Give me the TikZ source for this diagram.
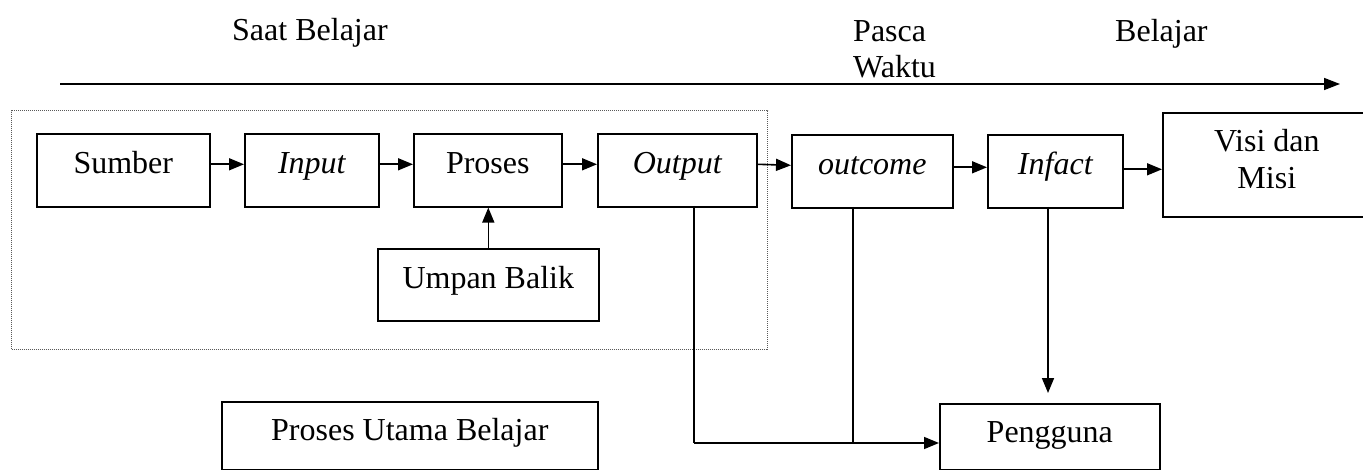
\documentclass[tikz,border=0pt]{standalone}
\usepackage{fontspec}
\setmainfont{Liberation Serif}
\usetikzlibrary{arrows.meta}
\begin{document}
\begin{tikzpicture}[x=1pt,y=-1pt,
  every node/.style={font=\fontsize{32}{37}\selectfont},
  boxbase/.style={draw, line width=1.6pt, inner sep=0pt, anchor=north west},
  onebox/.style={boxbase, text height=22pt, text depth=15pt},
  grpbox/.style={draw=black!65, line width=1.1pt, dash pattern=on 1pt off 1pt, inner sep=0pt, anchor=north west},
  conn/.style={line width=1.6pt, -{Triangle[length=15pt,width=12pt]}},
  plain/.style={line width=1.6pt},
  lbl/.style={anchor=base west, inner sep=0pt}]
\useasboundingbox (0,0) rectangle (1363,470);

% header texts
\node[lbl] (saat) at (232,41) {Saat Belajar};
\node[lbl] (pasca) at (853,42) {Pasca};
\node[lbl] (waktu) at (853,78) {Waktu};
\node[lbl] (belajar) at (1115,42) {Belajar};

% timeline
\coordinate (tlA) at (60,84);
\coordinate (tlB) at (1340,84);
\draw[line width=1.6pt, -{Triangle[length=16pt,width=12pt]}] (tlA) -- (tlB);

% group frame
\node[grpbox, minimum width=756pt, minimum height=239pt] (grp) at (11,110) {};

% top row
\node[onebox, minimum width=173pt, minimum height=73pt] (sumber) at (36,133) {Sumber};
\node[onebox, minimum width=134pt, minimum height=73pt] (input) at (244,133) {\itshape Input};
\node[onebox, minimum width=148pt, minimum height=73pt] (proses) at (413,133) {Proses};
\node[onebox, minimum width=159pt, minimum height=73pt] (output) at (597,133) {\itshape Output};
\node[onebox, minimum width=161pt, minimum height=73pt] (outcome) at (791,134) {\itshape outcome};
\node[onebox, minimum width=135pt, minimum height=73pt] (infact) at (987,134) {\itshape Infact};
\node[boxbase, align=center, minimum width=208pt, minimum height=104pt] (visi) at (1162,112)
  {Visi dan\\Misi\rule[-11pt]{0pt}{11pt}};

% feedback
\node[onebox, minimum width=221pt, minimum height=72pt] (umpan) at (377,248) {Umpan Balik};

% bottom boxes
\node[boxbase, minimum width=376pt, text height=39pt, text depth=29pt] (utama) at (221,401) {Proses Utama Belajar};
\node[boxbase, minimum width=220pt, text height=39pt, text depth=27pt] (pengguna) at (939,403) {Pengguna};

% horizontal connectors
\draw[conn] ([yshift=6pt]sumber.east) -- ([yshift=6pt]input.west);
\draw[conn] ([yshift=6pt]input.east) -- ([yshift=6pt]proses.west);
\draw[conn] ([yshift=6pt]proses.east) -- ([yshift=6pt]output.west);
\draw[conn] ([yshift=6pt]output.east) -- ([yshift=6pt]outcome.west);
\draw[conn] ([yshift=4pt]outcome.east) -- ([yshift=4pt]infact.west);
\coordinate (infE) at ([yshift=2pt]infact.east);
\draw[conn] (infE) -- (visi.west |- infE);

% feedback arrow
\draw[conn] (umpan.north) -- (umpan.north |- proses.south);

% lines to Pengguna
\coordinate (outA) at (694,206);
\coordinate (outB) at (694,443);
\coordinate (ocA) at (853,207);
\coordinate (ocB) at (853,443);
\draw[plain] (outA) -- (outB);
\draw[conn] (outB) -- (pengguna.west |- outB);
\draw[plain] (ocA) -- (ocB);
\coordinate (infA) at (1048,207);
\draw[conn, shorten >=10pt] (infA) -- (infA |- pengguna.north);
\end{tikzpicture}
\end{document}
